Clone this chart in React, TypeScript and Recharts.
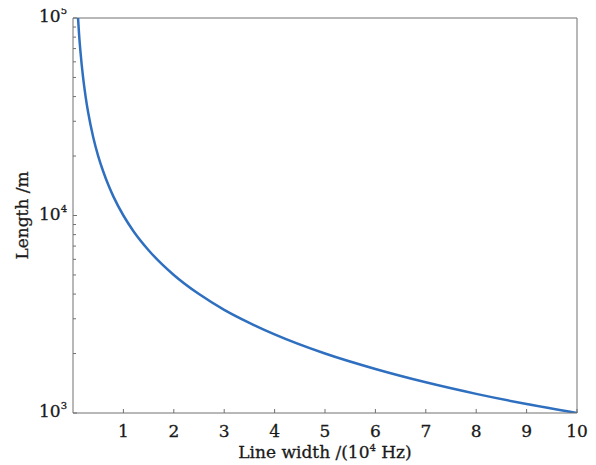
import { LineChart, Line, XAxis, YAxis, ReferenceLine } from "recharts";

// line width (10^4 Hz) and fibre length (m)
const lineWidth = [0.1, 0.12, 0.15, 0.2, 0.25, 0.3, 0.4, 0.5, 0.6, 0.7, 0.8, 1, 1.2, 1.5, 2, 2.5, 3, 3.5, 4, 5, 6, 7, 8, 9, 10];
const lengthM = [100000, 83000, 66700, 50000, 40000, 33300, 25000, 20000, 16700, 14300, 12500, 10000, 8330, 6670, 5000, 4000, 3330, 2860, 2500, 2000, 1670, 1430, 1250, 1110, 1000];

const xTicks = [1, 2, 3, 4, 5, 6, 7, 8, 9, 10];
const yTicks = [1000, 2000, 3000, 4000, 5000, 6000, 7000, 8000, 9000, 10000, 20000, 30000, 40000, 50000, 60000, 70000, 80000, 90000, 100000];
const yMajor: Record<number, string> = { 1000: "3", 10000: "4", 100000: "5" };

const data = lineWidth.map((x, i) => ({ x, len: lengthM[i] }));

const AXIS = "#707070";
const FONT = "'DejaVu Serif', 'Liberation Serif', serif";
const INK = "#1a1a1a";
const txt = { fontFamily: FONT, fill: INK, stroke: INK, strokeWidth: 0.3 };

function XTick(props: any) {
  const { x, y, payload } = props;
  return (
    <g>
      <line x1={x} x2={x} y1={y} y2={y - 4} stroke={AXIS} strokeWidth={1} />
      <text x={x} y={y + 24} textAnchor="middle" fontSize={17} {...txt}>
        {payload.value}
      </text>
    </g>
  );
}

function YTick(props: any) {
  const { x, y, payload } = props;
  const exp = yMajor[payload.value];
  return (
    <g>
      <line x1={x} x2={x + (exp ? 4 : 3)} y1={y} y2={y} stroke={AXIS} strokeWidth={1} />
      {exp && (
        <text x={x - 6} y={y + 4} textAnchor="end" fontSize={17} {...txt}>
          10
          <tspan fontSize={10} dy={-8}>{exp}</tspan>
        </text>
      )}
    </g>
  );
}

export default function App() {
  return (
    <div>
      <style>{`.recharts-surface{overflow:visible}`}</style>
      <LineChart width={588} height={457} data={data} margin={{ top: 10, right: 19, left: 0, bottom: 0 }}>
        <XAxis
          dataKey="x"
          type="number"
          domain={[0, 10]}
          ticks={xTicks}
          height={52}
          stroke={AXIS}
          tickLine={false}
          tickSize={0}
          tickMargin={0}
          tick={<XTick />}
          label={{
            content: ({ viewBox }: any) => (
              <text
                x={viewBox.x + viewBox.width / 2}
                y={viewBox.y + 45}
                textAnchor="middle"
                fontSize={17}
                {...txt}
              >
                Line width /(10
                <tspan fontSize={10} dy={-7}>4</tspan>
                <tspan dy={7}> Hz)</tspan>
              </text>
            ),
          }}
        />
        <YAxis
          scale="log"
          domain={[1000, 100000]}
          ticks={yTicks}
          allowDataOverflow
          width={65}
          stroke={AXIS}
          tickLine={false}
          tickSize={0}
          tickMargin={0}
          tick={<YTick />}
          interval={0}
          label={{
            content: ({ viewBox }: any) => {
              const cx = 14;
              const cy = viewBox.y + viewBox.height / 2;
              return (
                <text
                  x={cx}
                  y={cy}
                  transform={`rotate(-90 ${cx} ${cy})`}
                  textAnchor="middle"
                  dominantBaseline="central"
                  fontSize={17}
                  {...txt}
                >
                  Length /m
                </text>
              );
            },
          }}
        />
        <ReferenceLine y={100000} stroke={AXIS} strokeWidth={1} />
        <ReferenceLine x={10} stroke={AXIS} strokeWidth={1} />
        <Line
          type="monotone"
          dataKey="len"
          stroke="#2f6fbf"
          strokeWidth={2.5}
          dot={false}
          isAnimationActive={false}
        />
      </LineChart>
    </div>
  );
}
